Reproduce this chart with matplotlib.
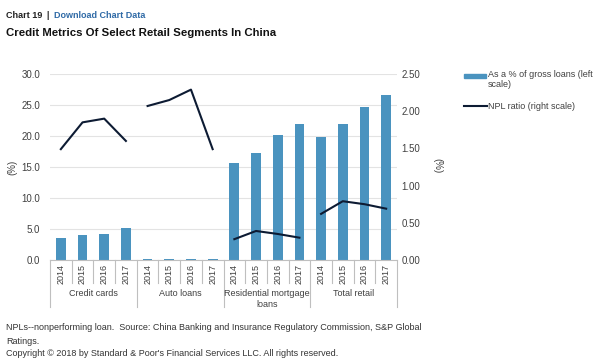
import matplotlib
matplotlib.use("Agg")
import matplotlib.pyplot as plt
import numpy as np

plt.rcParams['font.family'] = ['Liberation Sans', 'DejaVu Sans']

groups = ["Credit cards", "Auto loans", "Residential mortgage\nloans", "Total retail"]
years = ["2014", "2015", "2016", "2017"]
pct_gross = [3.6, 4.0, 4.2, 5.2,
             0.1, 0.1, 0.1, 0.2,
             15.7, 17.3, 20.2, 22.0,
             19.9, 21.9, 24.7, 26.6]
npl_ratio = [1.49, 1.85, 1.90, 1.60,
             2.07, 2.15, 2.29, 1.49,
             0.28, 0.39, 0.35, 0.30,
             0.62, 0.79, 0.75, 0.69]

bar_c = "#4a93bf"
line_c = "#0d1b33"
txt_c = "#404040"
grid_c = "#e3e3e3"
sep_c = "#bfbfbf"

fig = plt.figure(figsize=(6, 3.6), dpi=100)
W, H = 600, 360
L, R, T, B = 50, 397, 74, 260
ax = fig.add_axes([L / W, 1 - B / H, (R - L) / W, (B - T) / H])
ax2 = ax.twinx()

n = len(pct_gross)
x = np.arange(n)
ax.bar(x, pct_gross, width=0.45, color=bar_c, zorder=2)
ax.set_xlim(-0.5, n - 0.5)
ax.set_ylim(0, 30)
ax.set_yticks(np.arange(0, 31, 5))
ax.set_yticklabels([f"{v:.1f}" for v in np.arange(0, 31, 5)])
ax.grid(axis='y', color=grid_c, lw=0.8, zorder=0)
ax.set_axisbelow(True)

for g in range(len(groups)):
    sl = slice(g * 4, g * 4 + 4)
    ax2.plot(x[sl], npl_ratio[sl], color=line_c, lw=1.5, zorder=3)
ax2.set_ylim(0, 2.5)
ax2.set_yticks(np.arange(0, 2.51, 0.5))
ax2.set_yticklabels([f"{v:.2f}" for v in np.arange(0, 2.51, 0.5)])

for a in (ax, ax2):
    for s in a.spines.values():
        s.set_visible(False)
    a.tick_params(length=0, labelsize=7, labelcolor=txt_c)
ax.tick_params(axis='y', pad=7)
ax2.tick_params(axis='y', pad=3)
ax.set_xticks([])

ax.set_ylabel("(%)", fontsize=7, color=txt_c)
ax.yaxis.set_label_coords(-0.095, 0.5)
ax2.set_ylabel("(%)", fontsize=7, color=txt_c, rotation=270, va='center')
ax2.yaxis.set_label_coords(1.115, 0.51)

# category axis below the plot
trans = ax.get_xaxis_transform()
px = 1.0 / (B - T)
ax.plot([-0.5, n - 0.5], [0, 0], color=sep_c, lw=0.8, transform=trans, clip_on=False)
for i in range(n + 1):
    xb = i - 0.5
    depth = 47 if i % 4 == 0 else 23
    ax.plot([xb, xb], [0, -depth * px], color=sep_c, lw=0.8, transform=trans, clip_on=False)
for i in range(n):
    ax.text(x[i], -4 * px, years[i % 4], rotation=90, ha='center', va='top',
            fontsize=6.5, color=txt_c, transform=trans)
for g, name in enumerate(groups):
    ax.text(g * 4 + 1.5, -29 * px, name, ha='center', va='top', fontsize=6.5,
            color=txt_c, transform=trans, linespacing=1.3)

# legend
fig.patches.append(plt.Rectangle((464 / W, 1 - 78 / H), 22 / W, 4 / H, color=bar_c,
                                 transform=fig.transFigure))
fig.text(488 / W, 1 - 70 / H, "As a % of gross loans (left\nscale)", fontsize=6.5,
         color=txt_c, va='top', linespacing=1.15)
fig.add_artist(plt.Line2D([464 / W, 487 / W], [1 - 106 / H, 1 - 106 / H], color=line_c, lw=1.5))
fig.text(488 / W, 1 - 106 / H, "NPL ratio (right scale)", fontsize=6.5, color=txt_c, va='center')

# header and footer
fig.text(6 / W, 1 - 15 / H, "Chart 19", fontsize=6.5, fontweight='bold', color="#222222", va='center')
fig.text(46 / W, 1 - 15 / H, "|", fontsize=6.5, fontweight='bold', color="#222222", va='center')
fig.text(54 / W, 1 - 15 / H, "Download Chart Data", fontsize=6.5, fontweight='bold', color="#2f6aa6", va='center')
fig.text(6 / W, 1 - 33 / H, "Credit Metrics Of Select Retail Segments In China", fontsize=8.2,
         fontweight='bold', color="#111111", va='center')
fig.text(6 / W, 1 - 327 / H, "NPLs--nonperforming loan.  Source: China Banking and Insurance Regulatory Commission, S&P Global",
         fontsize=6.5, color="#333333", va='center')
fig.text(6 / W, 1 - 341 / H, "Ratings.", fontsize=6.5, color="#333333", va='center')
fig.text(6 / W, 1 - 354 / H, "Copyright \u00a9 2018 by Standard & Poor's Financial Services LLC. All rights reserved.",
         fontsize=6.5, color="#333333", va='center')

fig.savefig("out.png", dpi=100, facecolor="white")
